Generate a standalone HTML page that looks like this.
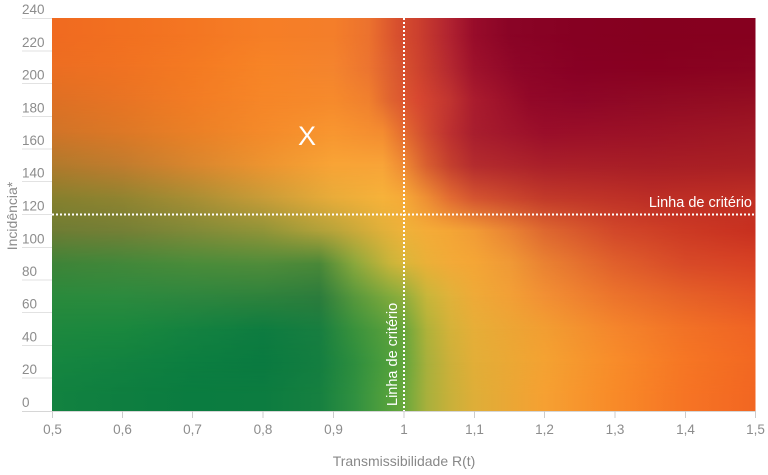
<!DOCTYPE html>
<html><head><meta charset="utf-8"><style>
html,body{margin:0;padding:0;background:#fff;}
svg{display:block;font-family:"Liberation Sans",sans-serif;}
</style></head><body>
<svg width="768" height="475" viewBox="0 0 768 475" xmlns="http://www.w3.org/2000/svg">
<defs>
<linearGradient id="vf" x1="0" y1="0" x2="0" y2="1">
<stop offset="0" stop-color="#fff" stop-opacity="0"/>
<stop offset="1" stop-color="#fff" stop-opacity="1"/>
</linearGradient>
<mask id="m" maskContentUnits="objectBoundingBox" x="0" y="0" width="1" height="1">
<rect x="0" y="0" width="1" height="1" fill="url(#vf)"/>
</mask>
<linearGradient id="r0" gradientUnits="userSpaceOnUse" x1="52" y1="0" x2="755.5" y2="0">
<stop offset="0" stop-color="#F06A20"/><stop offset=".1" stop-color="#F27020"/><stop offset=".2" stop-color="#F47622"/><stop offset=".3" stop-color="#F67E26"/><stop offset=".4" stop-color="#F47E2A"/><stop offset=".45" stop-color="#EC722E"/><stop offset=".49" stop-color="#D8502E"/><stop offset=".52" stop-color="#CC402E"/><stop offset=".566" stop-color="#B02230"/><stop offset=".6" stop-color="#980C2A"/><stop offset=".65" stop-color="#8A0426"/><stop offset=".75" stop-color="#860022"/><stop offset=".85" stop-color="#85001F"/><stop offset="1" stop-color="#86001F"/>
</linearGradient>
<linearGradient id="r1" gradientUnits="userSpaceOnUse" x1="52" y1="0" x2="755.5" y2="0">
<stop offset="0" stop-color="#EC6E22"/><stop offset=".1" stop-color="#F07222"/><stop offset=".2" stop-color="#F47A22"/><stop offset=".3" stop-color="#F78426"/><stop offset=".4" stop-color="#F4842E"/><stop offset=".45" stop-color="#EC7430"/><stop offset=".49" stop-color="#DA5830"/><stop offset=".52" stop-color="#CE442E"/><stop offset=".566" stop-color="#B42830"/><stop offset=".6" stop-color="#9E122C"/><stop offset=".66" stop-color="#8E0628"/><stop offset=".75" stop-color="#880024"/><stop offset=".85" stop-color="#880020"/><stop offset="1" stop-color="#8A0420"/>
</linearGradient>
<linearGradient id="r2" gradientUnits="userSpaceOnUse" x1="52" y1="0" x2="755.5" y2="0">
<stop offset="0" stop-color="#DE7024"/><stop offset=".1" stop-color="#E87424"/><stop offset=".2" stop-color="#F27C24"/><stop offset=".3" stop-color="#F68628"/><stop offset=".4" stop-color="#F68A2C"/><stop offset=".45" stop-color="#F0802E"/><stop offset=".48" stop-color="#E06430"/><stop offset=".52" stop-color="#D84830"/><stop offset=".566" stop-color="#C03430"/><stop offset=".6" stop-color="#AA1C2E"/><stop offset=".68" stop-color="#920828"/><stop offset=".75" stop-color="#8E0628"/><stop offset=".85" stop-color="#900A24"/><stop offset="1" stop-color="#940E22"/>
</linearGradient>
<linearGradient id="r3" gradientUnits="userSpaceOnUse" x1="52" y1="0" x2="755.5" y2="0">
<stop offset="0" stop-color="#D07428"/><stop offset=".1" stop-color="#DC7826"/><stop offset=".2" stop-color="#EA8026"/><stop offset=".3" stop-color="#F48A2A"/><stop offset=".4" stop-color="#F89630"/><stop offset=".47" stop-color="#F48C30"/><stop offset=".5" stop-color="#E46C30"/><stop offset=".533" stop-color="#D04A30"/><stop offset=".566" stop-color="#BC3030"/><stop offset=".6" stop-color="#A81E2E"/><stop offset=".7" stop-color="#9A0E2A"/><stop offset=".85" stop-color="#9C1226"/><stop offset="1" stop-color="#A01824"/>
</linearGradient>
<linearGradient id="r4" gradientUnits="userSpaceOnUse" x1="52" y1="0" x2="755.5" y2="0">
<stop offset="0" stop-color="#B07A2C"/><stop offset=".1" stop-color="#C07C2E"/><stop offset=".2" stop-color="#D8862E"/><stop offset=".3" stop-color="#EC9430"/><stop offset=".4" stop-color="#F8A436"/><stop offset=".47" stop-color="#F8A438"/><stop offset=".5" stop-color="#EE8A34"/><stop offset=".533" stop-color="#D85E30"/><stop offset=".566" stop-color="#C4402E"/><stop offset=".6" stop-color="#B42C2E"/><stop offset=".7" stop-color="#AA202A"/><stop offset=".85" stop-color="#A81E26"/><stop offset="1" stop-color="#AA2024"/>
</linearGradient>
<linearGradient id="r5" gradientUnits="userSpaceOnUse" x1="52" y1="0" x2="755.5" y2="0">
<stop offset="0" stop-color="#86802E"/><stop offset=".1" stop-color="#908430"/><stop offset=".2" stop-color="#A88E34"/><stop offset=".3" stop-color="#C89C38"/><stop offset=".4" stop-color="#E8AC3A"/><stop offset=".47" stop-color="#F6B23A"/><stop offset=".5" stop-color="#F6AA38"/><stop offset=".533" stop-color="#EE8E34"/><stop offset=".566" stop-color="#E26C32"/><stop offset=".6" stop-color="#D45430"/><stop offset=".7" stop-color="#C23A2A"/><stop offset=".85" stop-color="#BC2E26"/><stop offset="1" stop-color="#C03024"/>
</linearGradient>
<linearGradient id="r6" gradientUnits="userSpaceOnUse" x1="52" y1="0" x2="755.5" y2="0">
<stop offset="0" stop-color="#6E7C34"/><stop offset=".1" stop-color="#747F36"/><stop offset=".2" stop-color="#808A38"/><stop offset=".3" stop-color="#909438"/><stop offset=".4" stop-color="#B8A43A"/><stop offset=".47" stop-color="#E0B03A"/><stop offset=".5" stop-color="#EEB23A"/><stop offset=".533" stop-color="#F4AC38"/><stop offset=".566" stop-color="#F4A636"/><stop offset=".6" stop-color="#F29C36"/><stop offset=".65" stop-color="#EA8434"/><stop offset=".7" stop-color="#DE6830"/><stop offset=".8" stop-color="#D2482A"/><stop offset=".9" stop-color="#CC3A24"/><stop offset="1" stop-color="#C83020"/>
</linearGradient>
<linearGradient id="r7" gradientUnits="userSpaceOnUse" x1="52" y1="0" x2="755.5" y2="0">
<stop offset="0" stop-color="#3E8438"/><stop offset=".1" stop-color="#42883A"/><stop offset=".2" stop-color="#4A8C3A"/><stop offset=".3" stop-color="#508C3A"/><stop offset=".38" stop-color="#4A8838"/><stop offset=".43" stop-color="#8AA83C"/><stop offset=".48" stop-color="#C8B43A"/><stop offset=".5" stop-color="#D8B63A"/><stop offset=".533" stop-color="#EAB038"/><stop offset=".566" stop-color="#F2AA38"/><stop offset=".6" stop-color="#F4A636"/><stop offset=".65" stop-color="#F09A36"/><stop offset=".7" stop-color="#EA8232"/><stop offset=".8" stop-color="#E0602C"/><stop offset=".9" stop-color="#D84A28"/><stop offset="1" stop-color="#D84224"/>
</linearGradient>
<linearGradient id="r8" gradientUnits="userSpaceOnUse" x1="52" y1="0" x2="755.5" y2="0">
<stop offset="0" stop-color="#2A8A3C"/><stop offset=".1" stop-color="#2C8A3E"/><stop offset=".2" stop-color="#2E863E"/><stop offset=".3" stop-color="#2E823C"/><stop offset=".38" stop-color="#2C7C3C"/><stop offset=".43" stop-color="#58983C"/><stop offset=".48" stop-color="#80AA3C"/><stop offset=".5" stop-color="#90AE3C"/><stop offset=".533" stop-color="#C8B63A"/><stop offset=".566" stop-color="#E0B23A"/><stop offset=".6" stop-color="#EEAA38"/><stop offset=".65" stop-color="#F2A036"/><stop offset=".7" stop-color="#F29034"/><stop offset=".8" stop-color="#EC742C"/><stop offset=".9" stop-color="#E66228"/><stop offset="1" stop-color="#E45426"/>
</linearGradient>
<linearGradient id="r9" gradientUnits="userSpaceOnUse" x1="52" y1="0" x2="755.5" y2="0">
<stop offset="0" stop-color="#1E883E"/><stop offset=".1" stop-color="#1A883E"/><stop offset=".2" stop-color="#148240"/><stop offset=".3" stop-color="#0E7C40"/><stop offset=".38" stop-color="#187E40"/><stop offset=".43" stop-color="#3A923C"/><stop offset=".48" stop-color="#5AA03C"/><stop offset=".5" stop-color="#68A63C"/><stop offset=".533" stop-color="#B0B23A"/><stop offset=".566" stop-color="#D4B23A"/><stop offset=".6" stop-color="#E6AE38"/><stop offset=".7" stop-color="#F29E32"/><stop offset=".8" stop-color="#F5862C"/><stop offset=".9" stop-color="#F27226"/><stop offset="1" stop-color="#F06424"/>
</linearGradient>
<linearGradient id="r10" gradientUnits="userSpaceOnUse" x1="52" y1="0" x2="755.5" y2="0">
<stop offset="0" stop-color="#168640"/><stop offset=".1" stop-color="#128240"/><stop offset=".2" stop-color="#0C7E40"/><stop offset=".3" stop-color="#0A7A40"/><stop offset=".38" stop-color="#147E40"/><stop offset=".43" stop-color="#2E8E3E"/><stop offset=".48" stop-color="#50A03C"/><stop offset=".5" stop-color="#62A63C"/><stop offset=".533" stop-color="#A8B03C"/><stop offset=".566" stop-color="#CCB03A"/><stop offset=".6" stop-color="#E2AE38"/><stop offset=".7" stop-color="#F4A232"/><stop offset=".8" stop-color="#F88C2A"/><stop offset=".9" stop-color="#F67624"/><stop offset="1" stop-color="#F26822"/>
</linearGradient>
<linearGradient id="r11" gradientUnits="userSpaceOnUse" x1="52" y1="0" x2="755.5" y2="0">
<stop offset="0" stop-color="#128240"/><stop offset=".1" stop-color="#0E7E40"/><stop offset=".2" stop-color="#0A7C40"/><stop offset=".3" stop-color="#0C7C40"/><stop offset=".38" stop-color="#168040"/><stop offset=".43" stop-color="#309040"/><stop offset=".48" stop-color="#56A23C"/><stop offset=".5" stop-color="#68A83C"/><stop offset=".533" stop-color="#A8B03C"/><stop offset=".566" stop-color="#C8B03A"/><stop offset=".6" stop-color="#DEAE38"/><stop offset=".7" stop-color="#F6A032"/><stop offset=".8" stop-color="#F88A28"/><stop offset=".9" stop-color="#F67424"/><stop offset="1" stop-color="#F26622"/>
</linearGradient>
</defs>

<!-- gradient field: row bands blended vertically with masks -->
<g>
<rect x="52" y="18" width="703.5" height="50.1" fill="url(#r0)"/>
<rect x="52" y="34.375" width="703.5" height="32.75" fill="url(#r1)" mask="url(#m)"/>
<rect x="52" y="66.6" width="703.5" height="34" fill="url(#r1)"/>
<rect x="52" y="67.125" width="703.5" height="32.75" fill="url(#r2)" mask="url(#m)"/>
<rect x="52" y="99.4" width="703.5" height="34" fill="url(#r2)"/>
<rect x="52" y="99.875" width="703.5" height="32.75" fill="url(#r3)" mask="url(#m)"/>
<rect x="52" y="132.1" width="703.5" height="34" fill="url(#r3)"/>
<rect x="52" y="132.625" width="703.5" height="32.75" fill="url(#r4)" mask="url(#m)"/>
<rect x="52" y="164.9" width="703.5" height="34" fill="url(#r4)"/>
<rect x="52" y="165.375" width="703.5" height="32.75" fill="url(#r5)" mask="url(#m)"/>
<rect x="52" y="197.6" width="703.5" height="34" fill="url(#r5)"/>
<rect x="52" y="198.125" width="703.5" height="32.75" fill="url(#r6)" mask="url(#m)"/>
<rect x="52" y="230.4" width="703.5" height="34" fill="url(#r6)"/>
<rect x="52" y="230.875" width="703.5" height="32.75" fill="url(#r7)" mask="url(#m)"/>
<rect x="52" y="263.1" width="703.5" height="34" fill="url(#r7)"/>
<rect x="52" y="263.625" width="703.5" height="32.75" fill="url(#r8)" mask="url(#m)"/>
<rect x="52" y="295.9" width="703.5" height="34" fill="url(#r8)"/>
<rect x="52" y="296.375" width="703.5" height="32.75" fill="url(#r9)" mask="url(#m)"/>
<rect x="52" y="328.6" width="703.5" height="34" fill="url(#r9)"/>
<rect x="52" y="329.125" width="703.5" height="32.75" fill="url(#r10)" mask="url(#m)"/>
<rect x="52" y="361.4" width="703.5" height="34" fill="url(#r10)"/>
<rect x="52" y="361.875" width="703.5" height="32.75" fill="url(#r11)" mask="url(#m)"/>
<rect x="52" y="394.1" width="703.5" height="16.9" fill="url(#r11)"/>
</g>

<!-- y tick lines -->
<g stroke="#e2e2e2" stroke-width="1">
<line x1="22" y1="18.5" x2="52" y2="18.5"/>
<line x1="22" y1="51" x2="52" y2="51"/>
<line x1="22" y1="83.5" x2="52" y2="83.5"/>
<line x1="22" y1="116.5" x2="52" y2="116.5"/>
<line x1="22" y1="149" x2="52" y2="149"/>
<line x1="22" y1="181.5" x2="52" y2="181.5"/>
<line x1="22" y1="214.5" x2="52" y2="214.5"/>
<line x1="22" y1="247.5" x2="52" y2="247.5"/>
<line x1="22" y1="280" x2="52" y2="280"/>
<line x1="22" y1="312.5" x2="52" y2="312.5"/>
<line x1="22" y1="345.5" x2="52" y2="345.5"/>
<line x1="22" y1="378" x2="52" y2="378"/>
</g>
<line x1="22" y1="411.5" x2="756" y2="411.5" stroke="#d6d6d6" stroke-width="1"/>
<g stroke="#cccccc" stroke-width="1">
<line x1="52.5" y1="411" x2="52.5" y2="418"/>
<line x1="122.5" y1="411" x2="122.5" y2="418"/>
<line x1="192.5" y1="411" x2="192.5" y2="418"/>
<line x1="263" y1="411" x2="263" y2="418"/>
<line x1="333.5" y1="411" x2="333.5" y2="418"/>
<line x1="404" y1="411" x2="404" y2="418"/>
<line x1="474.5" y1="411" x2="474.5" y2="418"/>
<line x1="544.5" y1="411" x2="544.5" y2="418"/>
<line x1="615" y1="411" x2="615" y2="418"/>
<line x1="685.5" y1="411" x2="685.5" y2="418"/>
<line x1="755.5" y1="411" x2="755.5" y2="418"/>
</g>

<!-- y labels -->
<g fill="#8c8c8c" font-size="13.5">
<text x="22" y="14">240</text>
<text x="22" y="47">220</text>
<text x="22" y="79.5">200</text>
<text x="22" y="112.5">180</text>
<text x="22" y="145">160</text>
<text x="22" y="177.5">140</text>
<text x="22" y="210.5">120</text>
<text x="22" y="243.5">100</text>
<text x="22" y="276">80</text>
<text x="22" y="308.5">60</text>
<text x="22" y="341.5">40</text>
<text x="22" y="374">20</text>
<text x="22" y="407">0</text>
</g>

<!-- x labels -->
<g fill="#8c8c8c" font-size="13.5" text-anchor="middle">
<text x="52.5" y="434">0,5</text>
<text x="122.5" y="434">0,6</text>
<text x="192.5" y="434">0,7</text>
<text x="263" y="434">0,8</text>
<text x="333.5" y="434">0,9</text>
<text x="404" y="434">1</text>
<text x="474.5" y="434">1,1</text>
<text x="544.5" y="434">1,2</text>
<text x="615" y="434">1,3</text>
<text x="685.5" y="434">1,4</text>
<text x="755.5" y="434">1,5</text>
</g>

<!-- axis titles -->
<text x="404" y="466" fill="#888888" font-size="14" text-anchor="middle">Transmissibilidade R(t)</text>
<text transform="translate(17,216) rotate(-90)" fill="#8c8c8c" font-size="14" text-anchor="middle">Incidência*</text>

<!-- criterion lines -->
<line x1="52" y1="214.5" x2="756" y2="214.5" stroke="#ffffff" stroke-width="2" stroke-dasharray="2 2"/>
<line x1="404" y1="18" x2="404" y2="411" stroke="#ffffff" stroke-width="2" stroke-dasharray="2 2"/>

<text x="752" y="207" fill="#ffffff" font-size="14.5" text-anchor="end">Linha de critério</text>
<text transform="translate(397,406) rotate(-90)" fill="#ffffff" font-size="14.5" text-anchor="start">Linha de critério</text>

<!-- X marker -->
<text x="307" y="145" fill="#ffffff" font-size="27" text-anchor="middle">X</text>
</svg>
</body></html>
